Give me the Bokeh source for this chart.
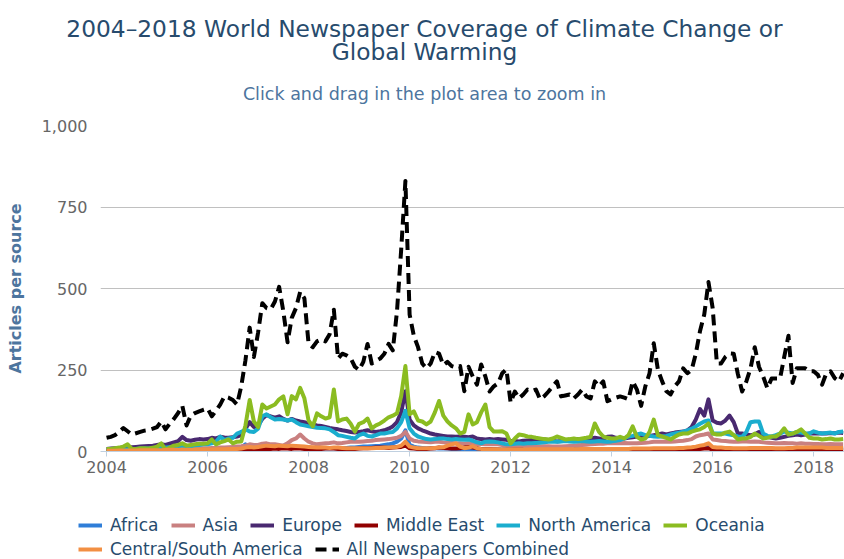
from bokeh.plotting import figure
from bokeh.layouts import column
from bokeh.models import FixedTicker, NumeralTickFormatter, BasicTickFormatter, Label, Legend, LegendItem
from bokeh.embed import file_html
from bokeh.resources import INLINE

# ---------------- data (monthly, Jan 2004 .. Aug 2018) ----------------
years = list(range(2004, 2019))
months = [f"{y}-{m:02d}" for y in years for m in range(1, 13)][:176]
x = [int(s[:4]) + (int(s[5:]) - 1) / 12 for s in months]
tick_years = [2004, 2006, 2008, 2010, 2012, 2014, 2016, 2018]
y_ticks = [0, 250, 500, 750, 1000]

africa = [2,2,2,2,3,3,3,3,3,4,4,4,
          4,5,5,5,5,6,6,6,6,6,7,7,
          7,7,8,8,8,9,9,10,12,22,14,12,
          12,14,13,12,12,12,11,12,14,13,12,12,
          12,11,11,10,10,10,11,10,10,11,12,12,
          14,15,15,16,17,18,20,22,25,30,40,65,
          20,15,12,11,10,10,10,9,9,9,8,8,
          8,8,8,7,7,7,7,7,7,6,6,6,
          6,6,6,6,6,6,6,6,6,6,6,6,
          6,6,6,6,6,6,6,6,6,6,6,6,
          6,6,6,6,6,6,6,6,6,7,7,7,
          7,7,7,7,7,8,8,9,9,10,12,14,
          8,7,7,7,7,7,7,7,7,7,7,7,
          7,7,7,7,7,7,7,7,7,7,8,8,
          8,8,9,9,9,9,9,9]

asia = [3,3,3,4,4,4,5,5,5,5,6,6,
        6,7,7,7,8,8,8,9,9,9,10,10,
        10,11,11,12,12,13,14,15,16,18,22,20,
        20,24,25,22,22,20,18,25,35,40,52,40,
        30,25,22,24,25,26,28,25,26,28,30,30,
        30,31,32,33,35,36,37,38,40,42,48,60,
        40,33,31,30,29,28,30,30,28,27,26,25,
        25,24,25,24,23,23,22,22,22,22,20,18,
        18,17,17,16,16,16,15,15,16,16,15,15,
        15,16,17,18,19,20,21,22,23,24,24,25,
        25,25,25,26,25,25,25,26,27,28,30,30,
        30,31,30,31,32,33,35,38,46,50,52,55,
        37,35,33,32,31,30,30,31,31,30,31,30,
        28,27,26,25,25,26,25,25,24,25,24,24,
        23,23,22,22,23,22,22,22]

europe = [8,9,10,11,12,12,13,14,15,16,17,18,
          20,22,20,24,28,32,45,35,33,36,38,37,
          38,42,40,45,43,42,44,46,50,70,90,75,
          80,100,112,108,104,108,100,95,100,95,92,90,
          85,83,80,78,75,72,70,68,65,63,60,58,
          60,62,65,62,60,62,65,70,77,90,120,185,
          98,80,71,65,60,55,52,50,48,46,46,45,
          46,45,44,46,40,38,37,38,37,38,37,36,
          33,32,31,33,34,35,36,38,37,35,33,31,
          32,33,35,37,38,36,37,40,42,40,38,45,
          46,42,40,40,42,44,46,44,45,48,50,52,
          55,52,55,58,60,61,65,75,98,130,110,160,
          95,88,86,95,110,90,55,55,52,50,52,60,
          50,45,42,40,42,45,48,50,52,50,52,55,
          55,56,55,55,57,56,58,57]

middle_east = [1,1,1,1,1,1,1,2,2,2,2,2,
               2,2,2,2,2,3,3,3,3,3,3,3,
               3,3,3,3,3,4,4,4,4,5,6,5,
               5,6,8,8,9,8,10,9,8,10,9,8,
               8,7,7,8,9,10,9,8,8,7,8,8,
               9,10,10,11,12,12,12,11,12,13,14,18,
               10,9,8,8,8,9,10,12,11,10,9,9,
               10,12,14,12,10,8,7,7,6,6,5,5,
               5,5,5,5,4,4,4,4,4,4,4,4,
               4,4,4,5,5,5,4,4,5,5,5,5,
               5,5,5,6,6,6,5,5,6,6,6,6,
               6,6,6,6,7,7,7,7,8,8,9,10,
               6,6,6,5,5,5,5,5,5,5,5,5,
               5,5,5,5,5,5,5,5,5,5,5,5,
               5,5,5,5,5,5,5,5]

north_america = [5,5,6,6,7,7,8,8,9,9,9,10,
                 10,11,12,13,14,15,16,15,16,18,20,22,
                 22,25,30,46,35,40,42,55,60,68,61,60,
                 70,108,114,105,98,100,98,95,98,90,83,80,
                 77,75,73,72,71,68,60,50,48,45,42,40,
                 50,55,48,46,50,55,55,58,60,71,90,125,
                 71,55,46,42,38,37,38,40,40,38,37,38,
                 37,36,37,33,28,25,30,31,30,28,25,22,
                 22,24,25,24,25,25,26,27,28,30,31,30,
                 31,32,31,30,31,32,31,30,31,32,31,30,
                 31,33,35,40,46,48,52,55,50,48,46,45,
                 46,48,52,55,58,61,65,70,77,85,92,95,
                 55,55,55,55,52,50,46,45,60,90,92,92,
                 55,48,46,50,55,61,58,55,60,58,55,55,
                 62,58,55,57,58,55,60,61]

oceania = [8,8,10,12,15,22,8,8,10,10,9,12,
           15,25,6,12,18,20,25,18,20,22,24,24,
           25,37,22,28,32,37,25,30,31,80,158,92,
           75,144,132,138,144,160,169,114,170,160,195,163,
           95,77,117,108,101,105,190,92,98,101,85,61,
           85,90,101,71,80,86,95,105,110,117,170,262,
           114,123,95,92,83,92,120,155,110,92,80,71,
           55,60,114,83,90,120,144,75,61,61,62,55,
           25,40,52,50,46,45,42,40,38,37,40,46,
           42,37,38,40,38,40,42,45,86,60,46,42,
           40,40,45,40,50,77,45,37,40,60,98,50,
           46,42,37,45,52,55,55,61,65,68,75,86,
           55,52,52,58,61,50,37,40,40,45,55,48,
           40,42,46,46,55,71,52,55,60,68,55,42,
           40,40,37,38,40,37,37,38]

central_south = [2,2,2,3,3,3,3,3,4,4,4,4,
                 4,4,5,5,5,5,6,5,5,6,6,6,
                 6,6,7,7,7,8,8,8,9,12,14,12,
                 14,16,18,17,16,18,17,16,18,17,16,15,
                 14,13,12,12,12,11,12,12,11,10,10,10,
                 10,10,10,10,11,11,12,12,13,14,18,30,
                 15,12,10,10,10,10,11,12,13,18,22,25,
                 15,10,12,16,10,8,7,7,7,7,6,6,
                 6,6,6,6,6,7,7,7,7,7,7,7,
                 7,7,7,7,7,8,8,8,8,8,8,8,
                 8,8,8,8,8,9,9,9,9,9,10,10,
                 10,10,10,10,11,11,12,13,15,18,20,25,
                 14,12,12,11,11,10,10,10,10,11,11,11,
                 11,11,11,10,10,10,11,11,12,12,12,12,
                 12,12,12,11,11,11,11,11]

all_combined = [42,45,50,60,72,62,52,56,60,64,66,70,
                75,92,68,85,100,118,140,80,110,118,123,128,
                132,108,125,144,169,165,158,144,200,280,380,290,
                365,455,440,436,460,505,430,335,410,440,490,470,
                330,320,338,344,338,360,435,285,300,295,286,260,
                250,275,330,270,278,285,300,330,310,430,620,830,
                420,355,320,270,255,270,305,300,265,275,262,258,
                262,185,260,230,205,267,230,184,200,209,240,252,
                150,184,163,175,190,185,190,160,170,184,200,215,
                169,172,175,163,175,190,169,163,215,200,215,154,
                160,165,169,165,160,215,190,140,200,240,332,250,
                215,185,175,200,215,255,240,250,300,370,420,520,
                440,270,270,290,301,300,237,184,215,255,320,260,
                230,194,224,224,224,290,355,210,255,255,255,246,
                246,235,205,240,246,225,215,240]

series = [
    ("Africa", africa, "#2f7ed8"),
    ("Asia", asia, "#c98080"),
    ("Europe", europe, "#492970"),
    ("Middle East", middle_east, "#910000"),
    ("North America", north_america, "#1aadce"),
    ("Oceania", oceania, "#8bbc21"),
    ("Central/South America", central_south, "#f28f43"),
    ("All Newspapers Combined", all_combined, "#000000"),
]

FONT = "DejaVu Sans"
W = 844
H_TITLE, H_CHART, H_LEG = 110, 390, 59
FL = 100                       # frame left of the chart on the page
X0, X1 = 2003.88, 2018.61

def style(name, col):
    kw = dict(line_width=4, line_color=col, line_join="round")
    if name == "All Newspapers Combined":
        kw["line_dash"] = "11 6"
    return kw

def strip(h):
    s = figure(width=W, height=h, x_range=(0, 1), y_range=(0, 1),
               output_backend="svg", toolbar_location=None, title=None,
               x_axis_location=None, y_axis_location=None)
    s.min_border = 0
    s.frame_align = False
    s.outline_line_color = None
    s.grid.visible = False
    return s

# ---------------- title strip ----------------
t = strip(H_TITLE)
for txt, base, size, col in [
    ("2004–2018 World Newspaper Coverage of Climate Change or", 28, "23.3px", "#274b6d"),
    ("Global Warming", 51, "23.3px", "#274b6d"),
    ("Click and drag in the plot area to zoom in", 93, "17.5px", "#4d759e"),
]:
    t.add_layout(Label(x=424, y=H_TITLE - base, x_units="screen", y_units="screen",
                       text=txt, text_align="center", text_baseline="alphabetic",
                       text_font=FONT, text_font_size=size, text_color=col))

# ---------------- main chart ----------------
p = figure(width=W, height=H_CHART, x_range=(X0, X1), y_range=(0, 1000),
           output_backend="svg", toolbar_location=None, title=None)
p.frame_align = False
p.min_border_left = FL
p.min_border_right = 0
p.min_border_top = 125 - H_TITLE
p.min_border_bottom = H_TITLE + H_CHART - 451
p.outline_line_color = None

for name, vals, col in series:
    p.line(x, vals, **style(name, col))

p.xgrid.grid_line_color = None
p.ygrid.grid_line_color = "#C0C0C0"

p.yaxis.ticker = FixedTicker(ticks=y_ticks)
p.yaxis.formatter = NumeralTickFormatter(format="0,0")
p.yaxis.axis_line_color = None
p.yaxis.major_tick_line_color = None
p.yaxis.minor_tick_line_color = None
p.yaxis.major_tick_out = 0
p.yaxis.major_tick_in = 0
p.yaxis.major_label_standoff = 13
p.yaxis.major_label_text_font = FONT
p.yaxis.major_label_text_font_size = "16px"
p.yaxis.major_label_text_color = "#666666"
p.yaxis.axis_label = "Articles per source"
p.yaxis.axis_label_text_font = FONT
p.yaxis.axis_label_text_font_size = "16px"
p.yaxis.axis_label_text_font_style = "bold"
p.yaxis.axis_label_text_color = "#4d759e"
p.yaxis.axis_label_standoff = 14

p.xaxis.ticker = FixedTicker(ticks=tick_years)
p.xaxis.formatter = BasicTickFormatter(use_scientific=False)
p.xaxis.axis_line_color = "#C0D0E0"
p.xaxis.major_tick_line_color = "#C0D0E0"
p.xaxis.minor_tick_line_color = None
p.xaxis.major_tick_out = 5
p.xaxis.major_tick_in = 0
p.xaxis.major_label_standoff = 4
p.xaxis.major_label_text_font = FONT
p.xaxis.major_label_text_font_size = "16px"
p.xaxis.major_label_text_color = "#666666"

# ---------------- legend strip ----------------
q = strip(H_LEG)
leg_r = {}
for name, vals, col in series:
    # same series, far outside this strip's visible range: only the legend shows
    leg_r[name] = q.line(x, vals, **style(name, col))

def make_legend(names, loc):
    lg = Legend(items=[LegendItem(label=n, renderers=[leg_r[n]]) for n in names],
                orientation="horizontal", location=loc)
    lg.padding = 0
    lg.margin = 0
    lg.spacing = 12
    lg.label_standoff = 8
    lg.glyph_width = 24
    lg.glyph_height = 18
    lg.label_height = 18
    lg.border_line_color = None
    lg.background_fill_alpha = 0
    lg.label_text_font = FONT
    lg.label_text_font_size = "17px"
    lg.label_text_color = "#274b6d"
    return lg

q.add_layout(make_legend(["Africa", "Asia", "Europe", "Middle East", "North America", "Oceania"],
                         (78, 24)))
q.add_layout(make_legend(["Central/South America", "All Newspapers Combined"],
                         (78, 0)))

open("out.html", "w").write(file_html(column(t, p, q, spacing=0), INLINE))
